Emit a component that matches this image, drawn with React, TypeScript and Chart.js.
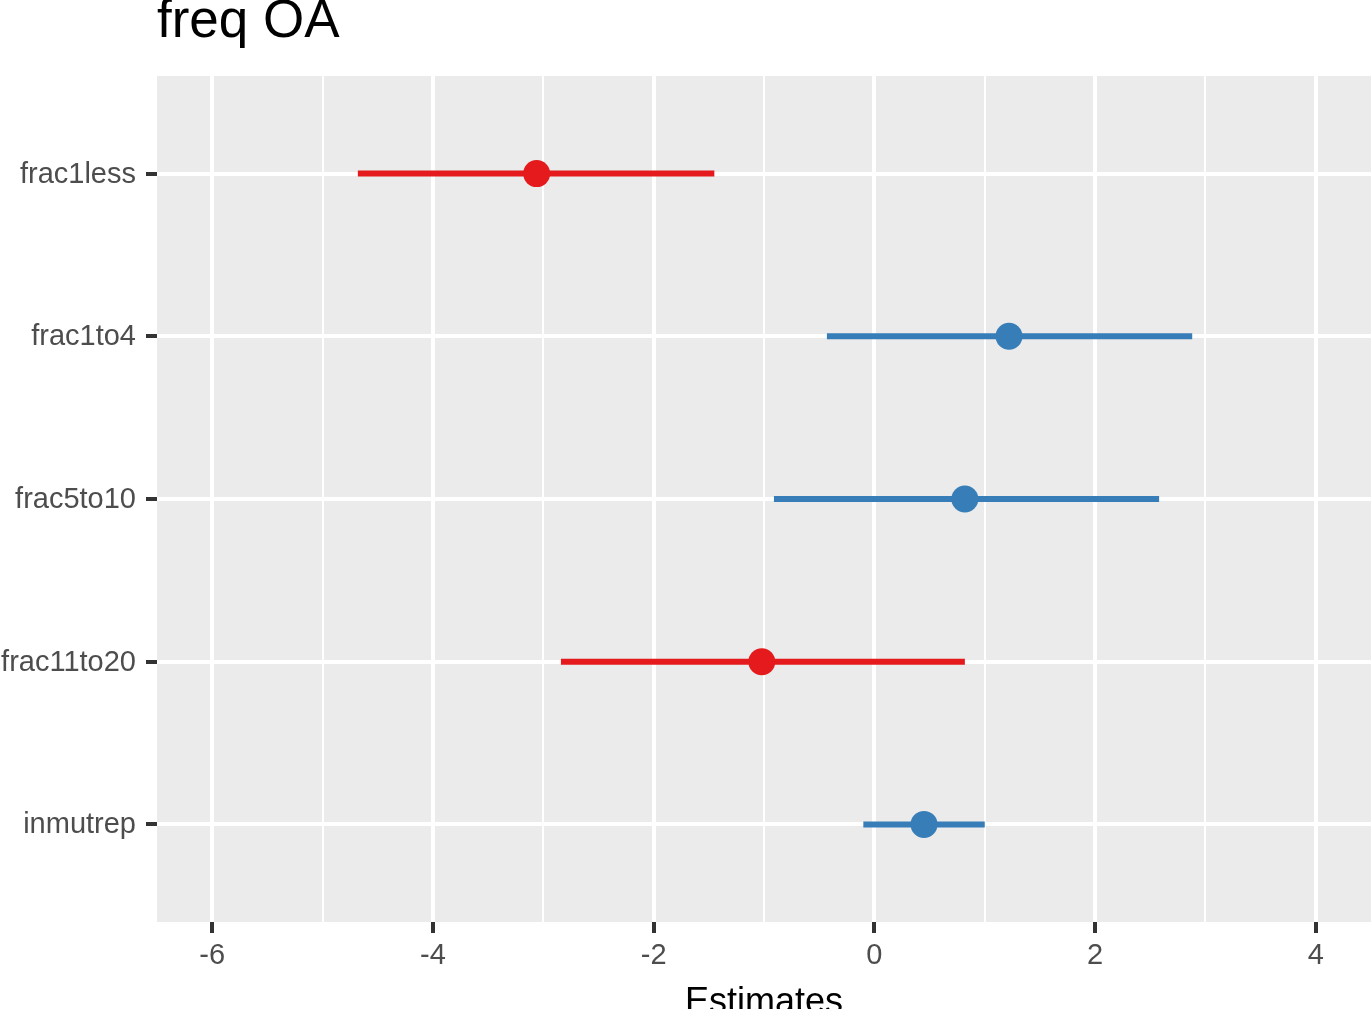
import React, { useEffect, useRef } from "react";
import { Chart, registerables } from "chart.js";

Chart.register(...registerables);

const categories = ["frac1less", "frac1to4", "frac5to10", "frac11to20", "inmutrep"];
const estimates = [-3.06, 1.22, 0.82, -1.02, 0.45];
const lowerCI = [-4.68, -0.43, -0.91, -2.84, -0.1];
const upperCI = [-1.45, 2.88, 2.58, 0.82, 1.0];
const xTicks = [-6, -5, -4, -3, -2, -1, 0, 1, 2, 3, 4];
const positiveColor = "#377EB8";
const negativeColor = "#E41A1C";

const FONT = "'Liberation Sans', Arial, Helvetica, sans-serif";

export default function App() {
  const ref = useRef<HTMLCanvasElement | null>(null);

  useEffect(() => {
    if (!ref.current) return;
    const colors = estimates.map((v) => (v < 0 ? negativeColor : positiveColor));

    const lineSets = categories.map((c, i) => ({
      type: "scatter" as const,
      label: c + " CI",
      data: [
        { x: lowerCI[i], y: i + 1 },
        { x: upperCI[i], y: i + 1 },
      ],
      showLine: true,
      borderColor: colors[i],
      backgroundColor: colors[i],
      borderWidth: 6,
      borderCapStyle: "butt" as const,
      pointRadius: 0,
      order: 1,
    }));

    const pointSet = {
      type: "scatter" as const,
      label: "estimate",
      data: categories.map((c, i) => ({ x: estimates[i], y: i + 1 })),
      pointRadius: 13.5,
      pointBackgroundColor: colors,
      pointBorderColor: colors,
      pointBorderWidth: 0,
      showLine: false,
      order: 0,
    };

    const bgPlugin = {
      id: "panelBg",
      beforeDraw(chart: any) {
        const { ctx, chartArea } = chart;
        ctx.save();
        ctx.fillStyle = "#EBEBEB";
        ctx.fillRect(chartArea.left, chartArea.top, chartArea.right - chartArea.left, chartArea.bottom - chartArea.top);
        ctx.restore();
      },
    };

    const chart = new Chart(ref.current, {
      type: "scatter",
      data: { datasets: [pointSet, ...lineSets] as any },
      plugins: [bgPlugin],
      options: {
        animation: false,
        responsive: false,
        layout: { padding: 0, autoPadding: false },
        plugins: {
          legend: { display: false },
          tooltip: { enabled: false },
          title: {
            display: true,
            text: "freq OA",
            align: "start",
            fullSize: false,
            color: "#000000",
            font: { family: FONT, size: 53, weight: "normal", lineHeight: 0.86 },
            padding: { top: 0, bottom: 30.4 },
          },
        },
        scales: {
          x: {
            type: "linear",
            min: -6.5,
            max: 4.5,
            afterBuildTicks: (scale: any) => {
              scale.ticks = xTicks.map((v) => ({ value: v }));
            },
            afterFit: (scale: any) => {
              scale.height = 87;
              scale.paddingLeft = 0;
              scale.paddingRight = 0;
            },
            ticks: {
              autoSkip: false,
              maxRotation: 0,
              padding: 6,
              color: "#4D4D4D",
              font: { family: FONT, size: 29 },
              callback: (v: any) => (Number(v) % 2 === 0 ? String(v) : ""),
            },
            grid: {
              color: "#FFFFFF",
              lineWidth: (ctx: any) => (ctx.tick && ctx.tick.value % 2 === 0 ? 4 : 2),
              tickColor: (ctx: any) => (ctx.tick && ctx.tick.value % 2 === 0 ? "#333333" : "rgba(0,0,0,0)"),
              tickWidth: 4,
              tickLength: 11,
              drawTicks: true,
            },
            border: { display: false },
            title: {
              display: true,
              text: "Estimates",
              color: "#000000",
              font: { family: FONT, size: 36, lineHeight: 1 },
              padding: { top: 0, bottom: -12 },
            },
          },
          y: {
            type: "linear",
            min: 0.4,
            max: 5.6,
            reverse: true,
            afterBuildTicks: (scale: any) => {
              scale.ticks = categories.map((c, i) => ({ value: i + 1 }));
            },
            afterFit: (scale: any) => {
              scale.width = 157;
              scale.paddingTop = 0;
              scale.paddingBottom = 0;
            },
            ticks: {
              autoSkip: false,
              padding: 10,
              labelOffset: 1,
              color: "#4D4D4D",
              font: { family: FONT, size: 29 },
              callback: (v: any) => categories[Math.round(Number(v)) - 1] ?? "",
            },
            grid: {
              color: "#FFFFFF",
              lineWidth: 4,
              tickColor: "#333333",
              tickWidth: 4,
              tickLength: 11,
              drawTicks: true,
            },
            border: { display: false },
          },
        },
      } as any,
    });

    return () => chart.destroy();
  }, []);

  return (
    <div style={{ position: "absolute", left: 0, top: 0, width: 1371, height: 1009 }}>
      <canvas ref={ref} width={1371} height={1009} style={{ display: "block", width: 1371, height: 1009 }} />
    </div>
  );
}
